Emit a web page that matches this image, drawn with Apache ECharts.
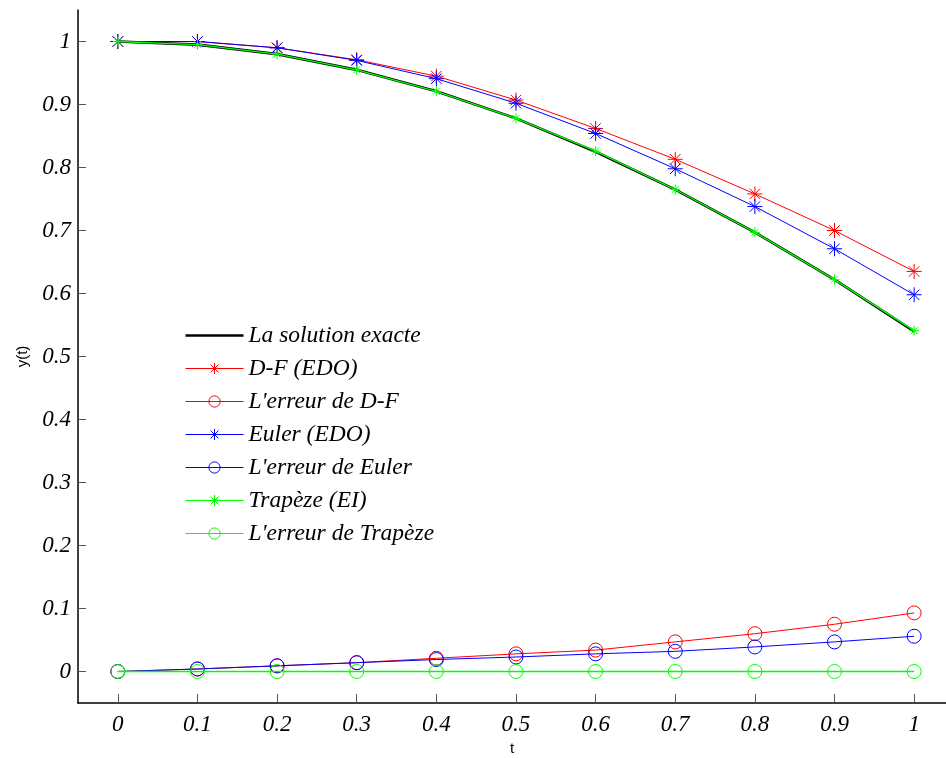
<!DOCTYPE html>
<html>
<head>
<meta charset="utf-8">
<script src="https://cdn.jsdelivr.net/npm/echarts@6/dist/echarts.min.js"></script>
<style>
  html, body { margin: 0; padding: 0; background: #fff; }
  #chart { width: 946px; height: 758px; }
</style>
</head>
<body>
<div id="chart"></div>
<script>
// values
const tValues = [0, 0.1, 0.2, 0.3, 0.4, 0.5, 0.6, 0.7, 0.8, 0.9, 1];
const exactY = [1, 0.995, 0.980, 0.955, 0.921, 0.878, 0.825, 0.765, 0.697, 0.622, 0.540];
const dfY = [1, 1.0, 0.990, 0.971, 0.945, 0.907, 0.862, 0.813, 0.758, 0.700, 0.635];
const dfErr = [0, 0.004, 0.009, 0.014, 0.021, 0.028, 0.034, 0.047, 0.060, 0.075, 0.093];
const eulerY = [1, 1.0, 0.990, 0.970, 0.941, 0.902, 0.854, 0.798, 0.738, 0.671, 0.598];
const eulerErr = [0, 0.004, 0.009, 0.014, 0.019, 0.023, 0.028, 0.032, 0.039, 0.047, 0.056];
const trapY = [1, 0.995, 0.980, 0.955, 0.921, 0.878, 0.826, 0.765, 0.697, 0.622, 0.541];
const trapErr = [0, 0, 0, 0, 0, 0, 0, 0, 0, 0, 0];

const xTicks = [0, 0.1, 0.2, 0.3, 0.4, 0.5, 0.6, 0.7, 0.8, 0.9, 1];
const yTicks = [0, 0.1, 0.2, 0.3, 0.4, 0.5, 0.6, 0.7, 0.8, 0.9, 1];

const STAR = 'path://M0 -10 L0 10 M-10 0 L10 0 M-7 -7 L7 7 M-7 7 L7 -7';
const LINE_ICON = 'path://M0 0 L58 0 L58 2.6 L0 2.6 Z';
const serif = 'Liberation Serif';

function pairs(ys) {
  return tValues.map((t, i) => [t, ys[i]]);
}

function mkSeries(name, ys, color, opts) {
  const s = {
    name: name,
    type: 'line',
    data: pairs(ys),
    lineStyle: { color: color, width: opts.width || 1 },
    itemStyle: { color: color },
    symbol: 'none',
    z: opts.z || 2,
    emphasis: { disabled: true }
  };
  if (opts.marker === 'star') {
    s.symbol = STAR;
    s.symbolSize = opts.size || 15;
    s.itemStyle = { color: 'none', borderColor: color, borderWidth: 1 };
  } else if (opts.marker === 'circle') {
    s.symbol = 'circle';
    s.symbolSize = 14;
    s.itemStyle = { color: 'rgba(0,0,0,0)', borderColor: color, borderWidth: 1 };
  }
  return s;
}

const chart = echarts.init(document.getElementById('chart'));
chart.setOption({
  animation: false,
  backgroundColor: '#fff',
  grid: { left: 78, top: 10, right: 0, bottom: 55, outerBoundsMode: 'none' },
  legend: {
    orient: 'vertical',
    left: 180,
    top: 319,
    itemWidth: 58,
    itemHeight: 14,
    itemGap: 10,
    itemStyle: { borderWidth: 1 },
    lineStyle: { width: 1 },
    textStyle: { fontFamily: serif, fontStyle: 'italic', fontSize: 23.5, color: '#000' },
    data: [
      { name: 'La solution exacte', icon: LINE_ICON },
      'D-F (EDO)', "L'erreur de D-F", 'Euler (EDO)',
      "L'erreur de Euler", 'Trapèze (EI)', "L'erreur de Trapèze"
    ]
  },
  xAxis: {
    type: 'value',
    min: -0.05,
    max: 1.04,
    name: 't',
    nameLocation: 'middle',
    nameGap: 36,
    nameTextStyle: { fontFamily: 'Liberation Sans', fontSize: 15, color: '#000' },
    axisLine: { onZero: false, lineStyle: { color: '#000', width: 1.5 } },
    axisTick: { inside: true, length: 9, customValues: xTicks, lineStyle: { color: '#555' } },
    axisLabel: {
      customValues: xTicks, margin: 10,
      fontFamily: serif, fontStyle: 'italic', fontSize: 23, color: '#000'
    },
    splitLine: { show: false }
  },
  yAxis: {
    type: 'value',
    min: -0.05,
    max: 1.05,
    name: 'y(t)',
    nameLocation: 'middle',
    nameGap: 48,
    nameTextStyle: { fontFamily: 'Liberation Sans', fontSize: 15, color: '#000' },
    axisLine: { show: true, onZero: false, lineStyle: { color: '#000', width: 1.5 } },
    axisTick: { show: true, inside: true, length: 8, customValues: yTicks, lineStyle: { color: '#555' } },
    axisLabel: {
      customValues: yTicks, margin: 7,
      fontFamily: serif, fontStyle: 'italic', fontSize: 23, color: '#000'
    },
    splitLine: { show: false }
  },
  series: [
    mkSeries('La solution exacte', exactY, '#000000', { width: 2.6, z: 2 }),
    mkSeries('D-F (EDO)', dfY, '#ff0000', { marker: 'star', size: 15, z: 3 }),
    mkSeries("L'erreur de D-F", dfErr, '#ff0000', { marker: 'circle', z: 3 }),
    mkSeries('Euler (EDO)', eulerY, '#0000ff', { marker: 'star', size: 15, z: 4 }),
    mkSeries("L'erreur de Euler", eulerErr, '#0000ff', { marker: 'circle', z: 4 }),
    mkSeries('Trapèze (EI)', trapY, '#00ff00', { marker: 'star', size: 10, z: 5, width: 1.3 }),
    mkSeries("L'erreur de Trapèze", trapErr, '#00ff00', { marker: 'circle', z: 5, width: 1.3 })
  ]
});
</script>
</body>
</html>
